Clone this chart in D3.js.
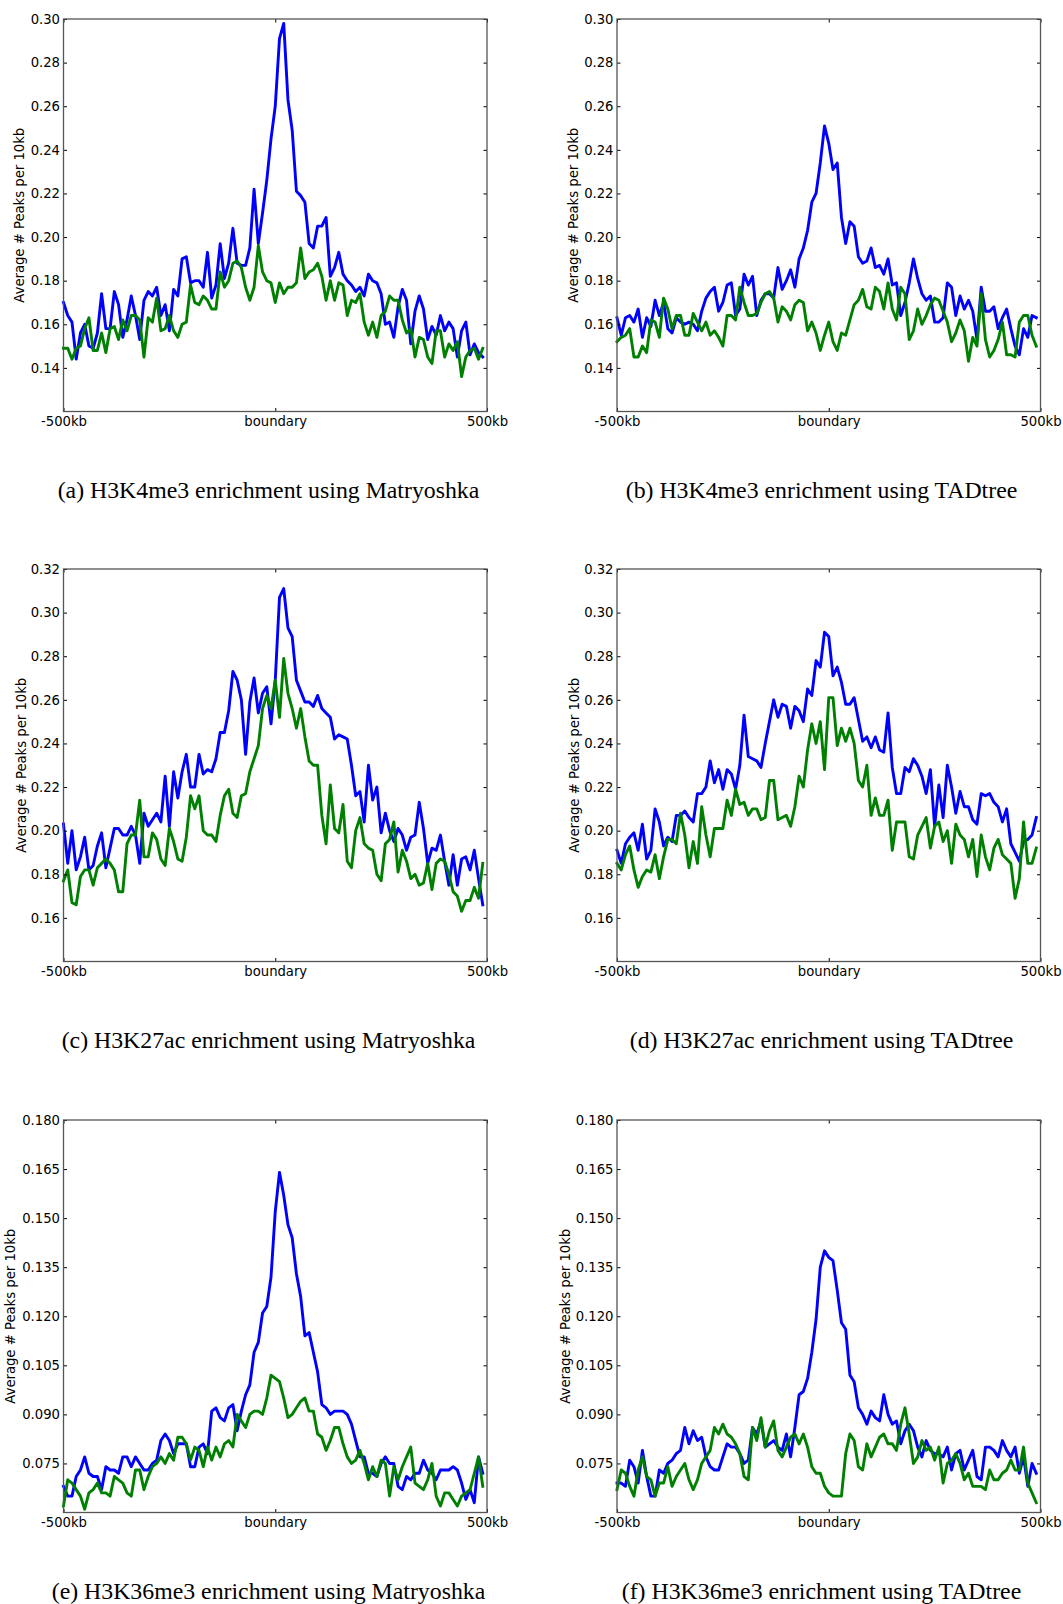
<!DOCTYPE html>
<html>
<head>
<meta charset="utf-8">
<script src="https://cdn.jsdelivr.net/npm/d3@7"></script>
<style>
  body { margin: 0; background: #fff; }
  .tick-label { font-family: "DejaVu Sans", sans-serif; font-size: 13.2px; fill: #000; }
  .caption { font-family: "Liberation Serif", "Times New Roman", serif; font-size: 23.8px; fill: #000; }
</style>
</head>
<body>
<script>
// Average # peaks per 10kb in 100 bins around the boundary (-500kb .. 500kb)
var k4MatBlue = [0.170,0.164,0.161,0.144,0.156,0.160,0.150,0.149,0.156,0.174,
  0.158,0.158,0.175,0.169,0.154,0.162,0.173,0.164,0.153,0.171,
  0.175,0.173,0.177,0.164,0.169,0.157,0.176,0.173,0.190,0.191,
  0.179,0.180,0.180,0.177,0.193,0.172,0.178,0.197,0.181,0.188,
  0.204,0.188,0.187,0.187,0.195,0.222,0.197,0.211,0.226,0.245,
  0.260,0.291,0.298,0.263,0.249,0.221,0.219,0.216,0.197,0.195,
  0.205,0.205,0.209,0.182,0.186,0.193,0.183,0.180,0.178,0.175,
  0.177,0.173,0.183,0.180,0.179,0.174,0.160,0.161,0.154,0.168,
  0.176,0.171,0.151,0.166,0.173,0.167,0.153,0.159,0.155,0.164,
  0.157,0.161,0.158,0.145,0.157,0.161,0.146,0.151,0.147,0.145];
var k4MatGreen = [0.149,0.149,0.144,0.149,0.150,0.158,0.163,0.148,0.148,0.156,
  0.147,0.158,0.159,0.153,0.162,0.157,0.164,0.164,0.162,0.145,
  0.163,0.161,0.172,0.157,0.158,0.164,0.157,0.154,0.160,0.161,
  0.178,0.170,0.169,0.173,0.171,0.167,0.167,0.184,0.177,0.180,
  0.188,0.189,0.186,0.177,0.171,0.177,0.196,0.184,0.180,0.179,
  0.170,0.179,0.174,0.177,0.177,0.179,0.195,0.181,0.184,0.185,
  0.188,0.182,0.171,0.180,0.171,0.179,0.178,0.164,0.171,0.170,
  0.174,0.161,0.155,0.161,0.154,0.164,0.166,0.173,0.171,0.171,
  0.162,0.156,0.158,0.145,0.154,0.153,0.145,0.142,0.157,0.157,
  0.145,0.151,0.148,0.152,0.136,0.145,0.148,0.149,0.144,0.149];
var k4TadBlue = [0.163,0.155,0.163,0.164,0.161,0.167,0.154,0.163,0.159,0.171,
  0.164,0.170,0.158,0.156,0.163,0.161,0.160,0.161,0.160,0.157,
  0.166,0.172,0.175,0.177,0.166,0.170,0.178,0.179,0.164,0.167,
  0.183,0.178,0.182,0.164,0.171,0.174,0.174,0.172,0.186,0.176,
  0.180,0.185,0.177,0.190,0.195,0.203,0.216,0.220,0.234,0.251,
  0.243,0.231,0.234,0.209,0.197,0.207,0.205,0.191,0.188,0.189,
  0.195,0.186,0.187,0.183,0.190,0.178,0.179,0.164,0.170,0.179,
  0.190,0.181,0.174,0.171,0.173,0.161,0.161,0.163,0.179,0.177,
  0.164,0.173,0.167,0.171,0.166,0.153,0.177,0.166,0.166,0.168,
  0.158,0.163,0.167,0.158,0.150,0.146,0.158,0.154,0.164,0.163];
var k4TadGreen = [0.152,0.154,0.155,0.158,0.145,0.145,0.150,0.147,0.162,0.161,
  0.154,0.172,0.167,0.158,0.164,0.164,0.155,0.155,0.165,0.161,
  0.157,0.161,0.155,0.157,0.154,0.150,0.164,0.164,0.162,0.177,
  0.170,0.164,0.164,0.165,0.170,0.174,0.175,0.172,0.161,0.168,
  0.166,0.162,0.169,0.171,0.170,0.157,0.161,0.156,0.148,0.155,
  0.161,0.152,0.148,0.156,0.155,0.162,0.169,0.171,0.176,0.168,
  0.167,0.177,0.175,0.167,0.179,0.167,0.162,0.177,0.174,0.153,
  0.157,0.167,0.160,0.164,0.169,0.172,0.171,0.166,0.161,0.152,
  0.156,0.162,0.157,0.143,0.154,0.150,0.174,0.153,0.145,0.148,
  0.153,0.161,0.146,0.146,0.145,0.161,0.164,0.164,0.155,0.150];
var k27MatBlue = [0.203,0.185,0.200,0.182,0.188,0.197,0.182,0.184,0.193,0.199,
  0.183,0.192,0.201,0.201,0.198,0.198,0.202,0.198,0.185,0.208,
  0.202,0.205,0.208,0.204,0.225,0.202,0.227,0.215,0.227,0.235,
  0.220,0.220,0.235,0.226,0.228,0.227,0.233,0.245,0.245,0.255,
  0.273,0.269,0.260,0.235,0.259,0.270,0.254,0.263,0.266,0.249,
  0.269,0.307,0.311,0.293,0.289,0.269,0.264,0.259,0.259,0.257,
  0.262,0.256,0.254,0.252,0.242,0.244,0.243,0.242,0.230,0.216,
  0.218,0.204,0.230,0.214,0.220,0.199,0.208,0.200,0.195,0.201,
  0.198,0.191,0.197,0.198,0.213,0.201,0.185,0.192,0.191,0.198,
  0.186,0.175,0.189,0.175,0.187,0.188,0.182,0.191,0.178,0.166];
var k27MatGreen = [0.177,0.182,0.167,0.166,0.179,0.182,0.182,0.175,0.183,0.185,
  0.187,0.185,0.182,0.172,0.172,0.194,0.198,0.198,0.214,0.188,
  0.188,0.199,0.196,0.187,0.184,0.201,0.195,0.187,0.186,0.197,
  0.216,0.210,0.216,0.200,0.198,0.198,0.195,0.207,0.216,0.219,
  0.208,0.206,0.216,0.217,0.227,0.233,0.239,0.256,0.262,0.256,
  0.269,0.252,0.279,0.263,0.256,0.247,0.256,0.243,0.232,0.230,
  0.230,0.207,0.194,0.221,0.201,0.199,0.212,0.186,0.183,0.200,
  0.206,0.194,0.192,0.191,0.180,0.177,0.194,0.196,0.204,0.181,
  0.191,0.186,0.178,0.180,0.175,0.176,0.185,0.173,0.185,0.187,
  0.186,0.180,0.172,0.170,0.163,0.168,0.168,0.174,0.169,0.185];
var k27TadBlue = [0.191,0.185,0.194,0.197,0.199,0.191,0.203,0.187,0.191,0.210,
  0.204,0.193,0.197,0.195,0.207,0.207,0.209,0.206,0.204,0.217,
  0.217,0.220,0.232,0.222,0.228,0.219,0.228,0.226,0.219,0.230,
  0.253,0.234,0.233,0.232,0.229,0.240,0.250,0.260,0.252,0.258,
  0.257,0.247,0.257,0.255,0.250,0.265,0.262,0.278,0.275,0.291,
  0.289,0.271,0.275,0.268,0.258,0.258,0.261,0.251,0.241,0.243,
  0.238,0.243,0.237,0.236,0.254,0.229,0.217,0.217,0.229,0.227,
  0.233,0.230,0.225,0.217,0.228,0.202,0.221,0.206,0.230,0.220,
  0.208,0.218,0.211,0.211,0.205,0.203,0.217,0.216,0.217,0.213,
  0.211,0.204,0.210,0.194,0.190,0.186,0.195,0.196,0.198,0.206];
var k27TadGreen = [0.185,0.182,0.189,0.193,0.182,0.174,0.179,0.182,0.181,0.189,
  0.178,0.188,0.196,0.196,0.194,0.208,0.198,0.183,0.195,0.185,
  0.211,0.198,0.188,0.201,0.201,0.201,0.214,0.207,0.219,0.212,
  0.213,0.207,0.210,0.210,0.205,0.206,0.223,0.223,0.205,0.206,
  0.207,0.202,0.211,0.225,0.220,0.237,0.249,0.240,0.250,0.228,
  0.261,0.261,0.239,0.247,0.241,0.247,0.240,0.223,0.220,0.230,
  0.207,0.215,0.207,0.207,0.214,0.191,0.204,0.204,0.204,0.188,
  0.187,0.198,0.202,0.206,0.192,0.202,0.204,0.195,0.200,0.185,
  0.203,0.198,0.196,0.188,0.196,0.179,0.198,0.188,0.182,0.192,
  0.196,0.189,0.187,0.185,0.169,0.178,0.204,0.185,0.185,0.192];
var k36MatBlue = [0.068,0.065,0.065,0.071,0.073,0.077,0.072,0.071,0.071,0.067,
  0.074,0.073,0.073,0.072,0.077,0.077,0.074,0.077,0.075,0.073,
  0.073,0.075,0.076,0.082,0.084,0.082,0.078,0.081,0.081,0.081,
  0.074,0.074,0.080,0.081,0.078,0.091,0.092,0.089,0.088,0.092,
  0.093,0.085,0.091,0.096,0.099,0.109,0.112,0.121,0.123,0.132,
  0.152,0.164,0.157,0.148,0.144,0.133,0.126,0.114,0.115,0.109,
  0.103,0.093,0.092,0.090,0.091,0.091,0.091,0.090,0.087,0.082,
  0.077,0.077,0.072,0.072,0.071,0.075,0.077,0.075,0.075,0.068,
  0.067,0.071,0.070,0.072,0.072,0.076,0.073,0.072,0.070,0.073,
  0.073,0.073,0.074,0.073,0.069,0.064,0.067,0.063,0.077,0.072];
var k36MatGreen = [0.062,0.070,0.069,0.067,0.065,0.061,0.066,0.067,0.069,0.066,
  0.066,0.065,0.071,0.070,0.069,0.066,0.065,0.073,0.073,0.067,
  0.071,0.074,0.075,0.077,0.075,0.078,0.076,0.083,0.083,0.081,
  0.076,0.080,0.079,0.074,0.080,0.076,0.080,0.077,0.081,0.082,
  0.080,0.090,0.088,0.086,0.090,0.091,0.091,0.090,0.095,0.102,
  0.101,0.100,0.095,0.089,0.090,0.092,0.094,0.095,0.091,0.091,
  0.084,0.083,0.079,0.082,0.086,0.086,0.081,0.077,0.075,0.076,
  0.079,0.075,0.070,0.074,0.071,0.076,0.075,0.065,0.074,0.070,
  0.074,0.077,0.080,0.069,0.068,0.067,0.070,0.075,0.065,0.062,
  0.066,0.066,0.064,0.062,0.065,0.066,0.067,0.072,0.077,0.068];
var k36TadBlue = [0.069,0.069,0.068,0.076,0.074,0.069,0.079,0.071,0.065,0.065,
  0.073,0.072,0.075,0.076,0.078,0.079,0.086,0.081,0.085,0.082,
  0.083,0.077,0.074,0.073,0.073,0.077,0.081,0.080,0.080,0.078,
  0.075,0.076,0.086,0.084,0.088,0.080,0.081,0.082,0.080,0.079,
  0.084,0.077,0.086,0.096,0.097,0.101,0.109,0.119,0.135,0.140,
  0.138,0.137,0.128,0.118,0.116,0.102,0.100,0.092,0.090,0.087,
  0.091,0.089,0.088,0.096,0.090,0.087,0.088,0.081,0.085,0.087,
  0.085,0.080,0.077,0.082,0.079,0.078,0.078,0.077,0.080,0.073,
  0.078,0.079,0.073,0.076,0.079,0.071,0.070,0.080,0.080,0.079,
  0.077,0.082,0.079,0.077,0.080,0.072,0.077,0.068,0.075,0.072];
var k36TadGreen = [0.067,0.073,0.072,0.068,0.065,0.073,0.077,0.071,0.070,0.065,
  0.069,0.069,0.074,0.068,0.071,0.073,0.075,0.070,0.067,0.070,
  0.075,0.077,0.079,0.086,0.084,0.087,0.084,0.083,0.081,0.078,
  0.071,0.070,0.086,0.082,0.089,0.080,0.085,0.088,0.079,0.077,
  0.080,0.083,0.084,0.081,0.084,0.080,0.074,0.072,0.072,0.068,
  0.066,0.065,0.065,0.065,0.078,0.084,0.082,0.074,0.073,0.081,
  0.077,0.080,0.083,0.084,0.081,0.081,0.079,0.087,0.092,0.084,
  0.075,0.077,0.082,0.079,0.080,0.076,0.080,0.069,0.075,0.076,
  0.078,0.075,0.070,0.072,0.068,0.068,0.068,0.067,0.073,0.070,
  0.070,0.072,0.073,0.076,0.073,0.073,0.080,0.069,0.066,0.063];

var xTickValues = [0, 50, 100],
    xTickLabels = ["-500kb", "boundary", "500kb"];
var k4Ticks = [0.14, 0.16, 0.18, 0.20, 0.22, 0.24, 0.26, 0.28, 0.30],
    k27Ticks = [0.16, 0.18, 0.20, 0.22, 0.24, 0.26, 0.28, 0.30, 0.32],
    k36Ticks = [0.075, 0.090, 0.105, 0.120, 0.135, 0.150, 0.165, 0.180];
var yLabel = "Average # Peaks per 10kb";
var captions = [
  "(a) H3K4me3 enrichment using Matryoshka",
  "(b) H3K4me3 enrichment using TADtree",
  "(c) H3K27ac enrichment using Matryoshka",
  "(d) H3K27ac enrichment using TADtree",
  "(e) H3K36me3 enrichment using Matryoshka",
  "(f) H3K36me3 enrichment using TADtree"
];

var panels = [
  {blue: k4MatBlue,  green: k4MatGreen,  domain: [0.12, 0.30], ticks: k4Ticks,  fmt: ".2f", left: 63.5, top: 19,   labelX: 19.6},
  {blue: k4TadBlue,  green: k4TadGreen,  domain: [0.12, 0.30], ticks: k4Ticks,  fmt: ".2f", left: 617,  top: 19,   labelX: 573.6},
  {blue: k27MatBlue, green: k27MatGreen, domain: [0.14, 0.32], ticks: k27Ticks, fmt: ".2f", left: 63.5, top: 569,  labelX: 21},
  {blue: k27TadBlue, green: k27TadGreen, domain: [0.14, 0.32], ticks: k27Ticks, fmt: ".2f", left: 617,  top: 569,  labelX: 574},
  {blue: k36MatBlue, green: k36MatGreen, domain: [0.06, 0.18], ticks: k36Ticks, fmt: ".3f", left: 63.5, top: 1120, labelX: 10.2},
  {blue: k36TadBlue, green: k36TadGreen, domain: [0.06, 0.18], ticks: k36Ticks, fmt: ".3f", left: 617,  top: 1120, labelX: 565.5}
];
panels.forEach(function(p, i) { p.caption = captions[i]; });

var plotW = 423.5, plotH = 392.5, tickLen = 3.5;

var svg = d3.select("body").append("svg")
    .attr("width", 1063)
    .attr("height", 1604)
    .style("display", "block");

svg.append("rect").attr("width", 1063).attr("height", 1604).attr("fill", "#fff");

var x = d3.scaleLinear().domain([0, 100]).range([0, plotW]);

panels.forEach(function(p) {
  var y = d3.scaleLinear().domain(p.domain).range([plotH, 0]);
  var fmt = d3.format(p.fmt);

  var g = svg.append("g")
      .attr("transform", "translate(" + p.left + "," + p.top + ")");

  var line = d3.line()
      .x(function(d, i) { return x(i); })
      .y(function(d) { return y(d); });

  [["#0000ff", p.blue], ["#008000", p.green]].forEach(function(s) {
    g.append("path")
        .datum(s[1])
        .attr("d", line)
        .attr("fill", "none")
        .attr("stroke", s[0])
        .attr("stroke-width", 2.9)
        .attr("stroke-linejoin", "round")
        .attr("stroke-linecap", "square");
  });

  // inward ticks on all four sides, like matplotlib classic
  var axisStyle = function(sel) {
    sel.select(".domain").remove();
    sel.selectAll(".tick line").attr("stroke", "#000").attr("stroke-width", 1);
    sel.selectAll(".tick text").attr("class", "tick-label").attr("fill", "#000");
  };

  g.append("g")
      .call(d3.axisLeft(y).tickValues(p.ticks).tickFormat(fmt).tickSizeInner(-tickLen).tickPadding(3.5))
      .call(axisStyle)
      .selectAll(".tick text").attr("font-family", null).attr("font-size", null);

  g.append("g")
      .attr("transform", "translate(" + plotW + ",0)")
      .call(d3.axisRight(y).tickValues(p.ticks).tickSizeInner(-tickLen).tickFormat(""))
      .call(axisStyle);

  g.append("g")
      .attr("transform", "translate(0," + plotH + ")")
      .call(d3.axisBottom(x).tickValues(xTickValues)
        .tickFormat(function(d, i) { return xTickLabels[i]; })
        .tickSizeInner(-tickLen).tickPadding(5))
      .call(axisStyle)
      .selectAll(".tick text").attr("font-family", null).attr("font-size", null);

  g.append("g")
      .call(d3.axisTop(x).tickValues(xTickValues).tickSizeInner(-tickLen).tickFormat(""))
      .call(axisStyle);

  g.append("rect")
      .attr("width", plotW)
      .attr("height", plotH)
      .attr("fill", "none")
      .attr("stroke", "#555")
      .attr("stroke-width", 1.3);

  svg.append("text")
      .attr("class", "tick-label")
      .attr("transform", "translate(" + p.labelX + "," + (p.top + plotH / 2) + ") rotate(-90)")
      .attr("dy", "0.35em")
      .attr("text-anchor", "middle")
      .text(yLabel);

  svg.append("text")
      .attr("class", "caption")
      .attr("x", p.left < 300 ? 268.5 : 821.5)
      .attr("y", p.top + 479)
      .attr("text-anchor", "middle")
      .text(p.caption);
});
</script>
</body>
</html>
